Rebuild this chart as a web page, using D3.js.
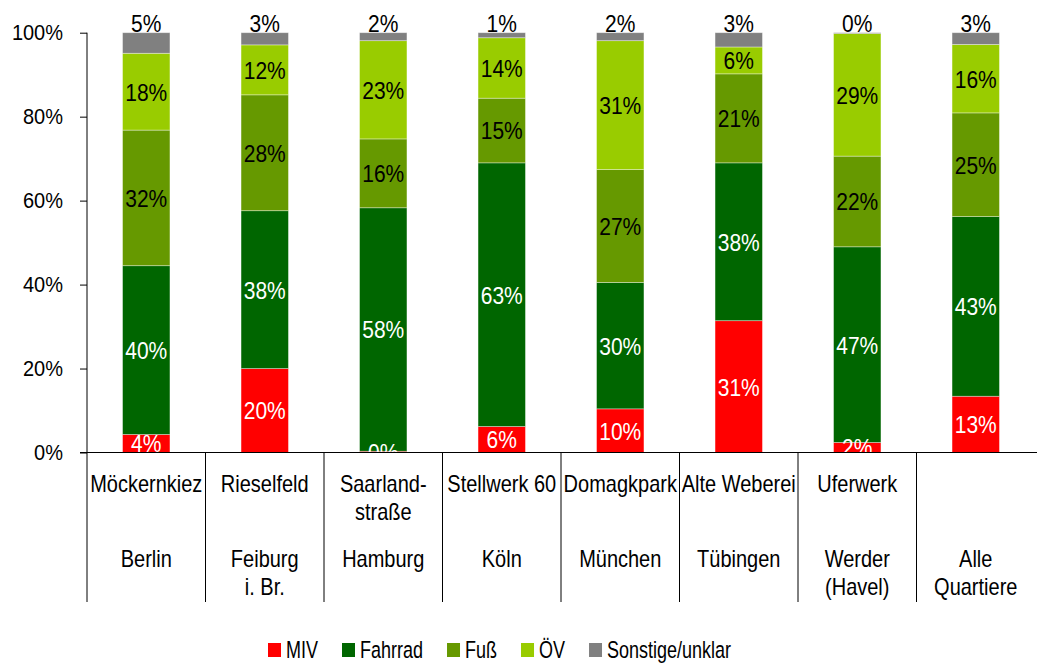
<!DOCTYPE html>
<html>
<head>
<meta charset="utf-8">
<script src="https://cdnjs.cloudflare.com/ajax/libs/d3/7.8.5/d3.min.js"></script>
<style>
  body{margin:0;background:#fff;}
  text{font-family:"Liberation Sans", Arial, sans-serif;}
</style>
</head>
<body>
<div class="chart"></div>
<script>
/*data*/
var quarters=[["Möckernkiez"],["Rieselfeld"],["Saarland-","straße"],["Stellwerk 60"],["Domagkpark"],["Alte Weberei"],["Uferwerk"],[""]];
var cities=[["Berlin"],["Feiburg","i. Br."],["Hamburg"],["Köln"],["München"],["Tübingen"],["Werder","(Havel)"],["Alle","Quartiere"]];
var modes=["MIV","Fahrrad","Fuß","ÖV","Sonstige/unklar"];
var miv     =[4.3, 20.0, 0.3, 6.2, 10.4, 31.4, 2.4, 13.4];
var fahrrad =[40.2, 37.6, 58.0, 62.8, 30.1, 37.6, 46.6, 42.8];
var fuss    =[32.3, 27.6, 16.4, 15.4, 26.9, 21.2, 21.6, 24.7];
var oev     =[18.3, 11.9, 23.4, 14.4, 30.7, 6.4, 29.2, 16.3];
var sonstige=[4.9, 2.9, 1.9, 1.2, 1.9, 3.4, 0.2, 2.8];
var yTicks=[0,20,40,60,80,100];

var series=[miv,fahrrad,fuss,oev,sonstige];
var colors=["#ff0000","#006600","#669900","#99cc00","#808080"];
var labelColors=["#fff","#fff","#000","#000","#000"];

/*dimensions*/
var width=1037, height=664;
var margin={left:87, right:1035, top:32.7, bottom:452.5};
var stretchY=1.18; // text in the original is drawn a bit taller than wide

var canvas=d3.select(".chart").append("svg")
  .attr("width", width)
  .attr("height", height);

/*scales*/
var idx=d3.range(quarters.length);
var xScale=d3.scaleBand()
  .domain(idx)
  .range([margin.left, margin.right])
  .paddingInner(0.6)
  .paddingOuter(0.3);
var yScale=d3.scaleLinear()
  .domain([0,100])
  .range([margin.bottom, margin.top]);

/*stack the series*/
var rows=idx.map(function(i){
  var r={i:i};
  modes.forEach(function(m,k){ r[m]=series[k][i]; });
  return r;
});
var stacked=d3.stack().keys(modes)(rows);

function place(x, y, s){
  return "translate("+x+","+y+") scale(1,"+(s||stretchY)+")";
}

/*clip for the labels*/
canvas.append("defs").append("clipPath")
  .attr("id","plotClip")
  .append("rect")
  .attr("x", margin.left).attr("y", 0)
  .attr("width", width-margin.left).attr("height", margin.bottom);

var layers=canvas.selectAll("g.layer")
  .data(stacked)
  .enter().append("g")
  .attr("class","layer")
  .attr("fill", function(d,k){return colors[k]});

layers.selectAll("rect")
  .data(function(d){return d})
  .enter().append("rect")
  .attr("x", function(d){return xScale(d.data.i)})
  .attr("width", xScale.bandwidth())
  .attr("y", function(d){return yScale(d[1])})
  .attr("height", function(d){return yScale(d[0])-yScale(d[1])})
  .style("stroke","#fff")
  .style("stroke-opacity",0.45)
  .style("stroke-width","0.8px");

/*segment labels*/
var labelG=canvas.append("g").attr("clip-path","url(#plotClip)");
stacked.forEach(function(layer,k){
  labelG.selectAll("text.l"+k)
    .data(layer)
    .enter().append("text")
    .attr("class","l"+k)
    .attr("transform", function(d){
      var x=xScale(d.data.i)+xScale.bandwidth()/2;
      var y=(k==4) ? yScale(d[1])-0.5 : yScale((d[0]+d[1])/2);
      return place(x,y);
    })
    .attr("dy", k==4 ? 0 : "0.36em")
    .attr("text-anchor","middle")
    .style("font-size","21px")
    .style("fill", labelColors[k])
    .text(function(d){return Math.round(d[1]-d[0])+"%"});
});

/*y axis*/
var yAxis=d3.axisLeft(yScale)
  .tickValues(yTicks)
  .tickSize(7)
  .tickPadding(17)
  .tickFormat(function(d){return d+"%"});
var gy=canvas.append("g")
  .attr("class","y-axis")
  .attr("transform","translate("+margin.left+",0)")
  .call(yAxis);
gy.select(".domain").attr("d","M0,"+margin.top+"V"+margin.bottom).style("stroke","#000");
gy.selectAll(".tick line").style("stroke","#000");
gy.selectAll(".tick text")
  .attr("transform","scale(1,1.1)")
  .style("font-size","20px").style("fill","#000");

/*x axis line*/
canvas.append("line")
  .attr("x1", margin.left-7).attr("x2", width)
  .attr("y1", margin.bottom).attr("y2", margin.bottom)
  .style("stroke","#000");

/*category dividers*/
canvas.selectAll("line.div")
  .data(idx)
  .enter().append("line")
  .attr("class","div")
  .attr("x1", function(i){return xScale(i)-xScale.step()*0.3})
  .attr("x2", function(i){return xScale(i)-xScale.step()*0.3})
  .attr("y1", margin.bottom).attr("y2", 602)
  .style("stroke","#000");

/*category labels*/
function addRow(lines, y0){
  var t=canvas.selectAll(null)
    .data(lines)
    .enter().append("text")
    .attr("transform", function(d,i){return place(xScale(i)+xScale.bandwidth()/2, y0)})
    .attr("text-anchor","middle")
    .style("font-size","20px")
    .style("fill","#000");
  t.selectAll("tspan")
    .data(function(d){return d})
    .enter().append("tspan")
    .attr("x", 0)
    .attr("dy", function(d,j){return j==0 ? 0 : 28/stretchY})
    .text(function(d){return d});
}
addRow(quarters, 492);
addRow(cities, 567);

/*legend*/
var legend=canvas.append("g").attr("class","legend");
var lx=268;
modes.forEach(function(m,k){
  legend.append("rect")
    .attr("x", lx).attr("y", 643)
    .attr("width", 13).attr("height", 14)
    .attr("fill", colors[k]);
  var t=legend.append("text")
    .attr("transform", place(lx+18, 658, 1.35))
    .style("font-size","18px")
    .style("fill","#000")
    .text(m);
  lx=lx+18+t.node().getComputedTextLength()+24;
});
</script>
</body>
</html>
